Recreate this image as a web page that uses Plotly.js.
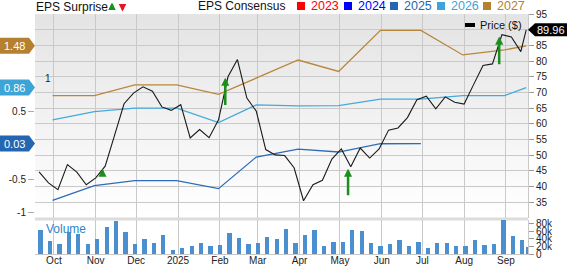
<!DOCTYPE html>
<html><head><meta charset="utf-8">
<script src="https://cdn.plot.ly/plotly-3.0.1.min.js"></script>
<style>html,body{margin:0;padding:0;background:#fff}#chart{width:568px;height:266px}</style>
</head><body><div id="chart"></div>
<script>
// ---------- data ----------
const weekDates = ['2024-09-20','2024-09-27','2024-10-04','2024-10-11','2024-10-18','2024-10-25',
 '2024-11-01','2024-11-08','2024-11-15','2024-11-22','2024-11-29','2024-12-06','2024-12-13','2024-12-20','2024-12-27',
 '2025-01-03','2025-01-10','2025-01-17','2025-01-24','2025-01-31','2025-02-07','2025-02-14','2025-02-21','2025-02-28',
 '2025-03-07','2025-03-14','2025-03-21','2025-03-28','2025-04-04','2025-04-11','2025-04-18','2025-04-25',
 '2025-05-02','2025-05-09','2025-05-16','2025-05-23','2025-05-30','2025-06-06','2025-06-13','2025-06-20','2025-06-27',
 '2025-07-04','2025-07-11','2025-07-18','2025-07-25','2025-08-01','2025-08-08','2025-08-15','2025-08-22','2025-08-29',
 '2025-09-05','2025-09-12','2025-09-16'];
const price = [44.7,41.2,39.0,47.0,44.6,40.6,42.8,46.5,56.4,66.4,
 69.8,71.8,70.4,65.4,64.3,66.1,55.5,58.2,55.6,61.3,
 75.0,80.5,68.2,64.0,51.8,50.1,49.9,46.0,35.5,40.6,
 42.0,48.8,52.0,46.3,52.3,49.1,52.0,58.0,58.7,62.0,
 67.7,68.8,64.8,68.6,66.9,66.3,72.5,78.6,79.1,88.4,
 87.7,83.0,89.96];
const volume = [63,35,27,58,52,27,40,71,88,58,
 27,40,29,51,11,16,21,30,20,25,
 55,43,26,30,45,40,65,29,50,63,
 22,32,32,64,61,30,20,27,36,20,
 33,17,29,29,20,20,38,24,27,90,
 48,37,19].map(v => v * 1000);

const epsDates = ['2024-09-30','2024-10-31','2024-11-30','2024-12-31','2025-01-31','2025-02-28','2025-03-31',
 '2025-04-30','2025-05-31','2025-06-30','2025-07-31','2025-08-31','2025-09-16'];
const eps2025 = [-0.813,-0.596,-0.521,-0.521,-0.64,-0.17,-0.052,-0.096,0.027,0.03];
const eps2026 = [0.38,0.505,0.556,0.556,0.342,0.604,0.59,0.594,0.69,0.69,0.742,0.742,0.86];
const eps2027 = [0.74,0.74,0.90,0.90,0.76,1.00,1.27,1.10,1.71,1.71,1.345,1.42,1.48];

const surpriseDates = ['2024-11-06','2025-02-05','2025-05-07','2025-08-27'];
const surpriseTip = [45.7,74.7,45.7,87.8];
const surpriseTail = [42.9,65.5,36.8,78.5];

const monthTicks = ['2024-10-01','2024-11-01','2024-12-01','2025-01-01','2025-02-01','2025-03-01','2025-04-01',
 '2025-05-01','2025-06-01','2025-07-01','2025-08-01','2025-09-01'];
const monthLabels = ['Oct','Nov','Dec','2025','Feb','Mar','Apr','May','Jun','Jul','Aug','Sep'];
const priceTicks = [35,40,45,50,55,60,65,70,75,80,85,90,95];
const priceLabels = ['35','40','45','50','55','60','65','70','75','80','85','','95'];
const volTicks = [0,20000,40000,60000,80000];
const volLabels = ['0','20k','40k','60k','80k'];
const epsTicks = [-1,-0.5,0.5];
const epsLabels = ['-1','-0.5','0.5'];

const years = ['2023','2024','2025','2026','2027'];
const yearColors = ['#ff0000','#0000ff','#2466b2','#3ea3d6','#b5802f'];

// ---------- layout helpers ----------
const L = 35, R = 528, T = 14, B = 254;
const px = x => (x - L) / (R - L);
const py = y => (B - y) / (B - T);
const FONT = 'Liberation Sans, Arial, sans-serif';

const traces = [
  {x: epsDates.slice(0, eps2025.length), y: eps2025, type: 'scatter', mode: 'lines', yaxis: 'y', xaxis: 'x',
   line: {color: '#2d6cb8', width: 1.3}, hoverinfo: 'skip'},
  {x: epsDates, y: eps2026, type: 'scatter', mode: 'lines', yaxis: 'y', xaxis: 'x',
   line: {color: '#45a9db', width: 1.3}, hoverinfo: 'skip'},
  {x: epsDates, y: eps2027, type: 'scatter', mode: 'lines', yaxis: 'y', xaxis: 'x',
   line: {color: '#b8863b', width: 1.3}, hoverinfo: 'skip'},
  {x: weekDates, y: price, type: 'scatter', mode: 'lines', yaxis: 'y2', xaxis: 'x',
   line: {color: '#1a1a1a', width: 1.1}, hoverinfo: 'skip'},
  {x: weekDates, y: volume, type: 'bar', yaxis: 'y3', xaxis: 'x',
   width: 3.2 * 86400000, offset: -0.5 * 86400000,
   marker: {color: '#4a8fd0', line: {width: 0}}, hoverinfo: 'skip'}
];

const shapes = [];
// gradient plot background
const steps = 34;
for (let i = 0; i < steps; i++) {
  const y0 = T + i * 6, y1 = Math.min(218, y0 + 6);
  const c = Math.round(228 + (255 - 228) * (i / (steps - 1)));
  shapes.push({type: 'rect', xref: 'paper', yref: 'paper', x0: 0, x1: 1, y0: py(y1), y1: py(y0),
    fillcolor: `rgb(${c},${c},${c})`, line: {width: 0}, layer: 'below'});
}
// separator band between price and volume
shapes.push({type: 'rect', xref: 'paper', yref: 'paper', x0: 0, x1: 1, y0: py(220.5), y1: py(217.5),
  fillcolor: '#dcdcdc', line: {width: 0}, layer: 'below'});
// left value tags
const tagDefs = [[1.48, '#b5802f'], [0.86, '#3ea3d6'], [0.03, '#2466b2']];
const annotations = [];
tagDefs.forEach(([v, col]) => {
  shapes.push({type: 'path', xref: 'paper', yref: 'y', xsizemode: 'pixel', ysizemode: 'pixel',
    xanchor: 0, yanchor: v, path: 'M 0 0 L -6 8 L -35 8 L -35 -8 L -6 -8 Z',
    fillcolor: col, line: {width: 0}});
  annotations.push({xref: 'paper', yref: 'y', x: px(14), y: v, text: v.toFixed(2), showarrow: false,
    xanchor: 'center', yanchor: 'middle', font: {family: FONT, size: 11, color: '#ffffff'}});
});
// right price tag
const lastPrice = price[price.length - 1];
shapes.push({type: 'path', xref: 'paper', yref: 'y2', xsizemode: 'pixel', ysizemode: 'pixel',
  xanchor: 1, yanchor: lastPrice, path: 'M 0 0 L 7 6.5 L 39 6.5 L 39 -6.5 L 7 -6.5 Z',
  fillcolor: '#000000', line: {width: 0}});
annotations.push({xref: 'paper', yref: 'y2', x: px(551), y: lastPrice, text: lastPrice.toFixed(2), showarrow: false,
  xanchor: 'center', yanchor: 'middle', font: {family: FONT, size: 11, color: '#ffffff'}});
// price legend
shapes.push({type: 'rect', xref: 'paper', yref: 'paper', x0: px(465), x1: px(475), y0: py(27), y1: py(23),
  fillcolor: '#000', line: {width: 0}});
annotations.push({xref: 'paper', yref: 'paper', x: px(478), y: py(25), text: 'Price ($)', showarrow: false,
  xanchor: 'left', yanchor: 'middle', font: {family: FONT, size: 11, color: '#111'}});
// top legends
annotations.push({xref: 'paper', yref: 'paper', x: px(34), y: py(6.5), text: 'EPS Surprise', showarrow: false,
  xanchor: 'left', yanchor: 'middle', font: {family: FONT, size: 12, color: '#111'}});
annotations.push({xref: 'paper', yref: 'paper', x: px(112), y: py(2.5), ax: 0, ay: 9, text: '', showarrow: true,
  arrowhead: 2, arrowsize: 0.6, arrowwidth: 2.5, arrowcolor: '#1b8f1b', standoff: 0, startstandoff: 0});
annotations.push({xref: 'paper', yref: 'paper', x: px(122.5), y: py(11.5), ax: 0, ay: -9, text: '', showarrow: true,
  arrowhead: 2, arrowsize: 0.6, arrowwidth: 2.5, arrowcolor: '#e8141b', standoff: 0, startstandoff: 0});
annotations.push({xref: 'paper', yref: 'paper', x: px(196), y: py(5.5), text: 'EPS Consensus', showarrow: false,
  xanchor: 'left', yanchor: 'middle', font: {family: FONT, size: 12, color: '#111'}});
const sqX = [297, 344, 390, 437, 483];
years.forEach((yr, i) => {
  shapes.push({type: 'rect', xref: 'paper', yref: 'paper', x0: px(sqX[i]), x1: px(sqX[i] + 8), y0: py(10), y1: py(2),
    fillcolor: yearColors[i], line: {width: 0}});
  annotations.push({xref: 'paper', yref: 'paper', x: px(sqX[i] + 12), y: py(5.5), text: yr, showarrow: false,
    xanchor: 'left', yanchor: 'middle', font: {family: FONT, size: 12.5, color: yearColors[i]}});
});
// EPS "1" label
annotations.push({xref: 'paper', yref: 'y', x: px(48), y: 1, text: '1', showarrow: false,
  xanchor: 'center', yanchor: 'middle', font: {family: FONT, size: 10, color: '#222'}});
// Volume label
annotations.push({xref: 'paper', yref: 'paper', x: px(44), y: py(229), text: 'Volume', showarrow: false,
  xanchor: 'left', yanchor: 'middle', font: {family: FONT, size: 12, color: '#3385c6'}});
// EPS surprise arrows
surpriseDates.forEach((d, i) => {
  annotations.push({xref: 'x', yref: 'y2', x: d, y: surpriseTip[i], axref: 'x', ayref: 'y2', ax: d, ay: surpriseTail[i],
    text: '', showarrow: true, arrowhead: 2, arrowsize: 0.65, arrowwidth: 2.5, arrowcolor: '#1b8f1b',
    standoff: 0, startstandoff: 0});
});

const tickFont = {family: FONT, size: 10, color: '#222'};
const layout = {
  width: 568, height: 266,
  margin: {l: L, r: 568 - R, t: T, b: 266 - B, pad: 0},
  paper_bgcolor: '#ffffff', plot_bgcolor: 'rgba(0,0,0,0)',
  showlegend: false, bargap: 0,
  xaxis: {type: 'date', range: ['2024-09-17', '2025-09-17 08:00'], tickvals: monthTicks, ticktext: monthLabels,
    showgrid: true, gridcolor: '#c9c9c9', gridwidth: 1, ticks: '', tickfont: tickFont, anchor: 'y3',
    ticklabelstandoff: -3,
    showline: true, linecolor: '#c9c9c9', zeroline: false, fixedrange: true},
  yaxis: {domain: [py(218), 1], range: [-1.0756, 1.953], tickvals: epsTicks, ticktext: epsLabels,
    ticks: 'outside', ticklen: 6, tickcolor: '#aaaaaa', showgrid: false, zeroline: false, tickfont: tickFont,
    anchor: 'x', fixedrange: true},
  yaxis2: {overlaying: 'y', side: 'right', range: [30, 95], tickvals: priceTicks, ticktext: priceLabels, showgrid: true,
    gridcolor: '#c9c9c9', gridwidth: 1, ticks: 'outside', ticklen: 5, tickcolor: '#999999',
    showline: true, linecolor: '#c9c9c9', zeroline: false, tickfont: tickFont, anchor: 'x', fixedrange: true},
  yaxis3: {domain: [0, py(220)], range: [0, 90000], side: 'right', tickvals: volTicks, ticktext: volLabels,
    ticks: 'outside', ticklen: 5, tickcolor: '#999999', showgrid: false, zeroline: false,
    showline: true, linecolor: '#c9c9c9', tickfont: tickFont, anchor: 'x', fixedrange: true},
  shapes: shapes,
  annotations: annotations
};

Plotly.newPlot('chart', traces, layout, {displayModeBar: false, staticPlot: true});
</script>
</body></html>
